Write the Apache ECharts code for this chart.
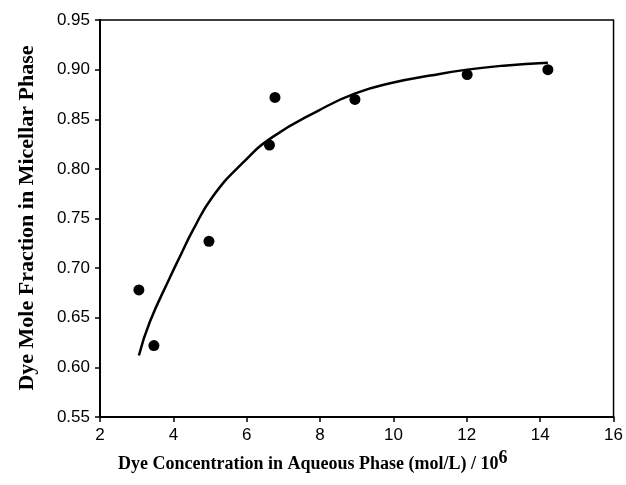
<!DOCTYPE html>
<html>
<head>
<meta charset="utf-8">
<script src="https://cdn.jsdelivr.net/npm/echarts@6/dist/echarts.min.js"></script>
<style>
  html, body { margin: 0; padding: 0; background: #fff; }
  #main { width: 626px; height: 485px; }
</style>
</head>
<body>
<div id="main"></div>
<script>
// measured points
var concX = [3.06, 3.47, 4.97, 6.62, 6.77, 8.95, 12.01, 14.21];
var fracY = [0.678, 0.622, 0.727, 0.824, 0.872, 0.870, 0.895, 0.900];
// fitted curve
var fitX = [3.06, 3.36, 3.90, 4.21, 4.53, 5.07, 5.89, 6.70, 7.97, 8.96, 10, 11, 12.01, 13, 14.21];
var fitY = [0.612, 0.646, 0.690, 0.714, 0.738, 0.772, 0.806, 0.832, 0.859, 0.876, 0.887, 0.894, 0.900, 0.904, 0.907];

function pairs(xs, ys) {
  var out = [];
  for (var i = 0; i < xs.length; i++) out.push([xs[i], ys[i]]);
  return out;
}

var myChart = echarts.init(document.getElementById('main'));
var tickFont = { color: '#000', fontFamily: 'Liberation Sans', fontSize: 17 };
var option = {
  animation: false,
  grid: { left: 100, right: 10, top: 20, bottom: 68, show: true, borderColor: '#000', borderWidth: 1.5 },
  xAxis: {
    type: 'value', min: 2, max: 16, interval: 2,
    axisLine: { show: true, lineStyle: { color: '#000', width: 2 } },
    axisTick: { show: true, length: 5, lineStyle: { color: '#000', width: 1.5 } },
    axisLabel: Object.assign({ margin: 10 }, tickFont),
    splitLine: { show: false }
  },
  yAxis: {
    type: 'value', min: 0.55, max: 0.95, interval: 0.05,
    axisLine: { show: true, lineStyle: { color: '#000', width: 2 } },
    axisTick: { show: true, length: 5, lineStyle: { color: '#000', width: 1.5 } },
    axisLabel: Object.assign({ margin: 10, formatter: function (v) { return v.toFixed(2); } }, tickFont),
    splitLine: { show: false }
  },
  graphic: [
    {
      type: 'text', x: 118, y: 449,
      style: {
        text: '{t|Dye Concentration in Aqueous Phase (mol/L) / 10}{s|6}',
        rich: {
          t: { fontFamily: 'Liberation Serif', fontWeight: 'bold', fontSize: 18, color: '#000', verticalAlign: 'bottom', lineHeight: 24 },
          s: { fontFamily: 'Liberation Serif', fontWeight: 'bold', fontSize: 18, color: '#000', verticalAlign: 'top', lineHeight: 24 }
        }
      }
    },
    {
      type: 'text', x: 27, y: 218, rotation: Math.PI / 2,
      style: {
        text: 'Dye Mole Fraction in Micellar Phase',
        fontFamily: 'Liberation Serif', fontWeight: 'bold', fontSize: 22, fill: '#000',
        align: 'center', verticalAlign: 'middle'
      }
    }
  ],
  series: [
    {
      type: 'line', data: pairs(fitX, fitY), smooth: 0.5, showSymbol: false,
      lineStyle: { color: '#000', width: 2.5 }
    },
    {
      type: 'scatter', data: pairs(concX, fracY), symbol: 'circle', symbolSize: 11,
      itemStyle: { color: '#000', opacity: 1 }
    }
  ]
};
myChart.setOption(option);
</script>
</body>
</html>
